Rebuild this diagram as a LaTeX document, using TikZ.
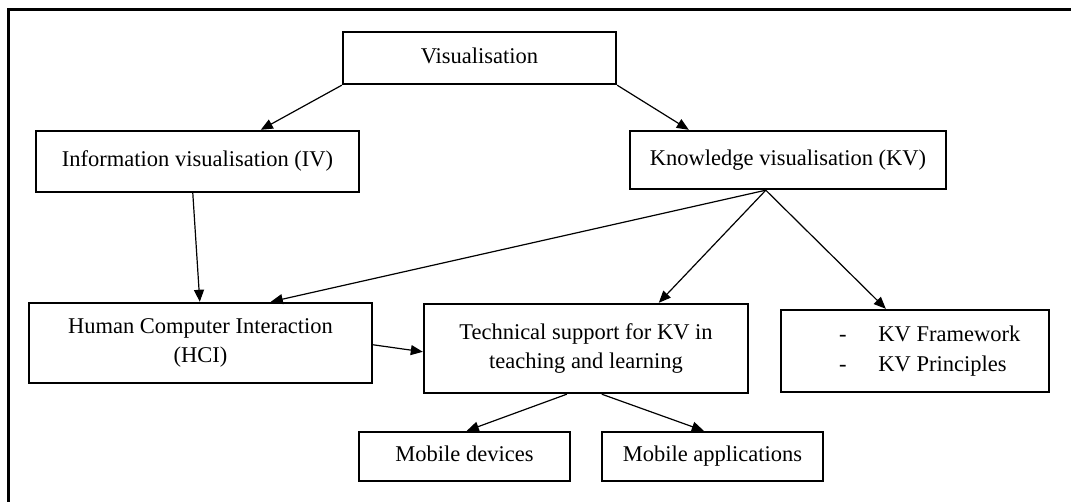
\documentclass[tikz,border=0pt]{standalone}
\usepackage{fontspec}
\setmainfont{Liberation Serif}
\usetikzlibrary{arrows.meta,calc}

\tikzset{
  box/.style={draw, line width=2.4pt, inner sep=0pt, align=center,
              font=\fontsize{22.5pt}{29pt}\selectfont},
  oneline/.style={text height=15.5pt, text depth=5pt},
  label/.style={inner sep=0pt, align=left,
              font=\fontsize{22.5pt}{30pt}\selectfont},
  link/.style={line width=1.2pt, -{Triangle[length=12pt,width=10pt]}},
  frame/.style={line width=3pt}
}

\begin{document}
\begin{tikzpicture}[x=1pt,y=-1pt]
  \useasboundingbox (0,0) rectangle (1071,502);

  % outer frame (left and top edges)
  \draw[frame] (8,502) -- (8,10) -- (1071,10);

  % boxes
  \node[box, oneline, minimum width=273pt, minimum height=52pt] (vis)  at (479.5,58)  {Visualisation};
  \node[box, oneline, minimum width=323pt, minimum height=61pt] (iv)   at (197.5,161.5) {Information visualisation (IV)};
  \node[box, oneline, minimum width=316pt, minimum height=58pt] (kv)   at (788,160)   {Knowledge visualisation (KV)};
  \node[box, minimum width=343pt, minimum height=80pt] (hci)  at (200.5,343) {Human Computer Interaction\\(HCI)};
  \node[box, minimum width=324pt, minimum height=89pt] (tech) at (586,348.5) {Technical support for KV in\\teaching and learning};
  \node[box, minimum width=268pt, minimum height=82pt] (kvf)  at (915,351)   {};
  \node[box, oneline, minimum width=211pt, minimum height=49pt] (mdev) at (464.5,456.5) {Mobile devices};
  \node[box, oneline, minimum width=221pt, minimum height=49pt] (mapp) at (712.5,456.5) {Mobile applications};

  % bullet list inside the framework box
  \node[label, anchor=west] (kvftext) at ($(kvf.west)+(59,0)$)
    {\begin{tabular}{@{}l@{\hspace{32pt}}l@{}}-&KV Framework\\-&KV Principles\end{tabular}};

  % connectors
  \coordinate (kvb) at ($(kv.south west)+(137,0)$);
  \draw[link] (vis.south west) -- ($(iv.north west)+(226,0)$);
  \draw[link] (vis.south east) -- ($(kv.north west)+(60,0)$);
  \draw[link] ($(iv.south west)+(158,0)$) -- ($(hci.north west)+(172,0)$);
  \draw[link] (kvb) -- ($(hci.north west)+(243,0)$);
  \draw[link] (kvb) -- ($(tech.north west)+(236,0)$);
  \draw[link] (kvb) -- ($(kvf.north west)+(106,0)$);
  \draw[link] ($(hci.north east)+(0,43)$) -- ($(tech.north west)+(0,49)$);
  \draw[link] ($(tech.south west)+(144,0)$) -- ($(mdev.north west)+(109,0)$);
  \draw[link] ($(tech.south west)+(179,0)$) -- ($(mapp.north west)+(103,0)$);
\end{tikzpicture}
\end{document}
